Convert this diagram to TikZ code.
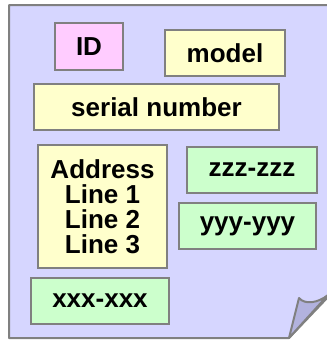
\documentclass[tikz,border=0pt]{standalone}
\usepackage{fontspec}
\setmainfont{Liberation Sans}
\definecolor{pagefill}{RGB}{214,214,255}
\definecolor{flapfill}{RGB}{178,178,222}
\definecolor{edge}{RGB}{128,128,128}
\definecolor{pinkfill}{RGB}{255,204,255}
\definecolor{yellowfill}{RGB}{255,255,204}
\definecolor{greenfill}{RGB}{204,255,204}
\tikzset{
  field/.style={draw=edge, line width=2pt, inner sep=0pt, align=center,
    font=\bfseries\fontsize{26}{25}\selectfont},
  pinkbox/.style={field, fill=pinkfill},
  yellowbox/.style={field, fill=yellowfill},
  greenbox/.style={field, fill=greenfill},
}
\begin{document}
\begin{tikzpicture}[x=1pt,y=-1pt]
\useasboundingbox (0,0) rectangle (327,341);
\clip (0,0) rectangle (327,341);
% page with folded corner
\draw[edge, line width=2pt, fill=pagefill, line join=round]
  (9,5) -- (330,5) -- (330,295) -- (289,338) -- (9,338) -- cycle;
\draw[edge, line width=2pt, fill=flapfill, line join=round]
  (289,338) -- (299,298) .. controls (305,305) and (318,303) .. (328,295) -- cycle;
% fields
\node[pinkbox, minimum width=68pt, minimum height=47pt] (id) at (89,46.5) {ID};
\node[yellowbox, minimum width=120pt, minimum height=46pt] (model) at (225,53) {model};
\node[yellowbox, minimum width=245pt, minimum height=46pt] (serial) at (156.5,107) {serial number};
\node[yellowbox, minimum width=129pt, minimum height=123pt] (addr) at (102.5,206.5) {Address\\Line 1\\Line 2\\Line 3};
\node[greenbox, minimum width=130pt, minimum height=46pt] (zzz) at (252,170) {zzz-zzz};
\node[greenbox, minimum width=137pt, minimum height=46pt] (yyy) at (247.5,226) {yyy-yyy};
\node[greenbox, minimum width=138pt, minimum height=46pt] (xxx) at (100,301) {xxx-xxx};
\end{tikzpicture}
\end{document}
